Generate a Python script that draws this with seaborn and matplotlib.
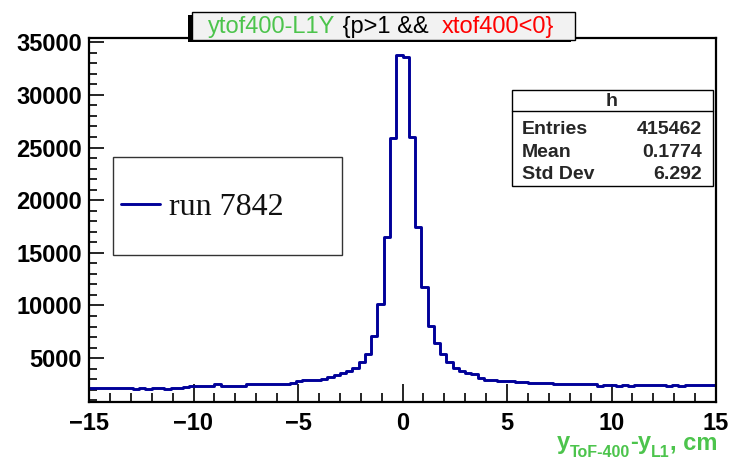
import numpy as np
import pandas as pd
import matplotlib
matplotlib.use("Agg")
import matplotlib.pyplot as plt
import seaborn as sns
from matplotlib.patches import Rectangle
from matplotlib.lines import Line2D
from matplotlib.ticker import MultipleLocator

# ---------------- data ----------------
x_min, x_max = -15.0, 15.0
n_bins = 100
counts = [
    2120, 2120, 2200, 2200, 2200, 2200, 2200, 2060, 2200, 2060,
    2200, 2200, 2080, 2200, 2200, 2210, 2350, 2350, 2350, 2360,
    2500, 2380, 2380, 2380, 2390, 2520, 2520, 2520, 2530, 2530,
    2540, 2550, 2650, 2780, 2900, 2910, 2920, 3050, 3230, 3390,
    3550, 3770, 4020, 4590, 5380, 7090, 10130, 16520, 25870,
    33780, 33550,
    26010, 17470, 11770, 8070, 6400, 5380, 4590, 4020, 3770,
    3610, 3450, 3130, 2910, 2910, 2820, 2820, 2820, 2690, 2690,
    2600, 2600, 2600, 2600, 2510, 2510, 2510, 2510, 2510, 2510,
    2510, 2380, 2440, 2440, 2380, 2440, 2380, 2440, 2440, 2440,
    2440, 2440, 2380, 2440, 2380, 2440, 2440, 2440, 2440, 2440,
]
x_ticks = [-15, -10, -5, 0, 5, 10, 15]
y_ticks = [5000, 10000, 15000, 20000, 25000, 30000, 35000]
y_range = [830, 35400]
green = "#4cc44c"
title_parts = [("ytof400-L1Y", green), (" {p>1 &&  ", "black"), ("xtof400<0}", "#ff0000")]
stats_title = "h"
stats_labels = ["Entries", "Mean", "Std Dev"]
stats_values = ["415462", "0.1774", "6.292"]
legend_label = "run 7842"
# (text, is_subscript)
xlabel_parts = [("y", False), ("ToF-400", True), ("-y", False), ("L1", True), (", cm", False)]

edges = np.linspace(x_min, x_max, n_bins + 1)
centers = 0.5 * (edges[:-1] + edges[1:])
df = pd.DataFrame({"x": centers, "w": counts})

# ---------------- style ----------------
sns.set_style("white")
plt.rcParams["font.family"] = ["Liberation Sans", "DejaVu Sans"]

W, H = 730, 461
fig = plt.figure(figsize=(W / 100, H / 100), dpi=100)
fig.patch.set_facecolor("white")

def fx(px):
    return px / W

def fy(py):
    return 1 - py / H

ax = fig.add_axes([fx(89), fy(402), fx(716) - fx(89), fy(38) - fy(402)])
line_color = "#000099"
sns.histplot(data=df, x="x", weights="w", bins=n_bins, binrange=(x_min, x_max),
             element="step", fill=False, color=line_color, linewidth=2.1, ax=ax)
ax.set_xlim(x_min, x_max)
ax.set_ylim(*y_range)
ax.set_xlabel("")
ax.set_ylabel("")
ax.set_xticks(x_ticks)
ax.set_yticks(y_ticks)
ax.set_xticklabels([str(t).replace("-", "\u2212") for t in x_ticks])
ax.xaxis.set_minor_locator(MultipleLocator(1))
ax.yaxis.set_minor_locator(MultipleLocator(1000))
ax.tick_params(which="both", direction="in", top=False, right=False, bottom=True, left=True,
               color="black", width=1.2, labelcolor="black")
ax.tick_params(axis="x", which="major", length=13, pad=7)
ax.tick_params(axis="x", which="minor", length=6.5)
ax.tick_params(axis="y", which="major", length=11, pad=5)
ax.tick_params(axis="y", which="minor", length=6)
for lab in ax.get_xticklabels() + ax.get_yticklabels():
    lab.set_fontweight("bold")
    lab.set_fontsize(17)
for s in ax.spines.values():
    s.set_linewidth(1.6)
    s.set_color("black")
    s.set_visible(True)

fig.canvas.draw()
renderer = fig.canvas.get_renderer()

# ---------------- title box ----------------
tx0, tx1, ty0, ty1 = 192, 575, 12, 40
fig.add_artist(Rectangle((fx(tx0 - 4), fy(ty1 + 2)), fx(tx1 - tx0), fy(ty0 + 3) - fy(ty1 + 2),
                         transform=fig.transFigure, facecolor="black", edgecolor="none", zorder=5))
fig.add_artist(Rectangle((fx(tx0), fy(ty1)), fx(tx1 - tx0), fy(ty0) - fy(ty1),
                         transform=fig.transFigure, facecolor="#f2f2f2", edgecolor="black",
                         linewidth=1.0, zorder=6))
tmp = []
for txt, col in title_parts:
    t = fig.text(0, fy(33), txt, color=col, fontsize=17, va="baseline", ha="left", zorder=7)
    tmp.append(t)
widths = [t.get_window_extent(renderer).width for t in tmp]
total = sum(widths)
start = 381 - total / 2
for t, w in zip(tmp, widths):
    t.set_x(fx(start))
    start += w

# ---------------- stats box ----------------
sx0, sx1, sy0, sy1 = 512, 713, 90, 186
fig.add_artist(Rectangle((fx(sx0), fy(sy1)), fx(sx1 - sx0), fy(sy0) - fy(sy1),
                         transform=fig.transFigure, facecolor="white", edgecolor="black",
                         linewidth=1.0, zorder=6))
fig.add_artist(Line2D([fx(sx0), fx(sx1)], [fy(111), fy(111)], transform=fig.transFigure,
                      color="black", linewidth=1.0, zorder=7))
fig.text(fx(612), fy(106), stats_title, fontsize=14, fontweight="bold",
         ha="center", va="baseline", zorder=7)
for i, (lab, val) in enumerate(zip(stats_labels, stats_values)):
    yy = 134 + 22.7 * i
    fig.text(fx(522), fy(yy), lab, fontsize=14, fontweight="bold", ha="left", va="baseline", zorder=7)
    fig.text(fx(702), fy(yy), val, fontsize=14, fontweight="bold", ha="right", va="baseline", zorder=7)

# ---------------- legend ----------------
lx0, lx1, ly0, ly1 = 113, 342, 157, 255
fig.add_artist(Rectangle((fx(lx0), fy(ly1)), fx(lx1 - lx0), fy(ly0) - fy(ly1),
                         transform=fig.transFigure, facecolor="white", edgecolor="#333333",
                         linewidth=1.0, zorder=6))
fig.add_artist(Line2D([fx(121), fx(160)], [fy(204), fy(204)], transform=fig.transFigure,
                      color=line_color, linewidth=2.1, zorder=7))
fig.text(fx(169), fy(215), legend_label, family=["Liberation Serif", "DejaVu Serif"],
         fontsize=23, ha="left", va="baseline", color="#111111", zorder=7)

# ---------------- x label ----------------
xl = []
for txt, sub in xlabel_parts:
    t = fig.text(0, fy(457 if sub else 449), txt, color=green, fontsize=11.5 if sub else 17,
                 fontweight="bold", ha="left", va="baseline")
    xl.append(t)
xw = [t.get_window_extent(renderer).width for t in xl]
start = 717 - sum(xw)
for t, w in zip(xl, xw):
    t.set_x(fx(start))
    start += w

fig.savefig("out.png", dpi=100, facecolor="white")
